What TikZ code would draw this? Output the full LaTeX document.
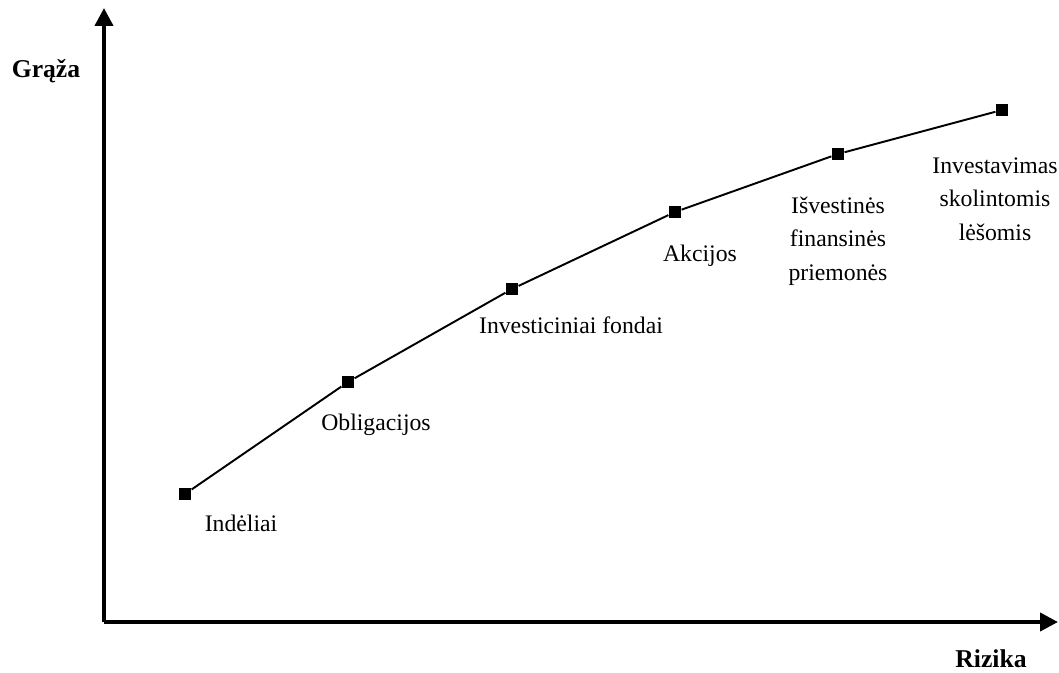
\documentclass[tikz,border=0pt]{standalone}
\usepackage{fontspec}
\setmainfont{Liberation Serif}
\usepackage{tikz}
\usetikzlibrary{arrows.meta,positioning}

\begin{document}
\begin{tikzpicture}[x=0.02cm,y=-0.02cm,
  axis/.style={line width=2.3pt,-{Triangle[length=0.36cm,width=0.36cm]}},
  pt/.style={fill=black,minimum size=0.25cm,inner sep=0pt},
  lbl/.style={font=\fontsize{13.5}{19}\selectfont,align=center,inner sep=0pt},
  ttl/.style={font=\fontsize{14.6}{19}\selectfont\bfseries,inner sep=0pt}]
\useasboundingbox (0,0) rectangle (1059,673);
% axes
\coordinate (o) at (104,622);
\coordinate (ytop) at (104,8);
\coordinate (xend) at (1058,622);
\draw[axis] (o) -- (ytop);
\draw[axis] (o) -- (xend);
\node[ttl] (graza) at (46,71) {Grąža};
\node[ttl] (rizika) at (991,659) {Rizika};
% points
\node[pt] (ind) at (185,494) {};
\node[pt] (obl) at (348,382) {};
\node[pt] (inv) at (512,289) {};
\node[pt] (akc) at (675,212) {};
\node[pt] (isv) at (838,154) {};
\node[pt] (sko) at (1002,110) {};
\draw[line width=1.1pt] (ind) -- (obl) -- (inv) -- (akc) -- (isv) -- (sko);
% labels
\node[lbl] (indl) at (241,523) {Indėliai};
\node[lbl] (obll) at (376,425) {Obligacijos};
\node[lbl] (invl) at (571,325) {Investiciniai fondai};
\node[lbl] (akcl) at (700,256) {Akcijos};
\node[lbl] (isvl) at (838,241) {Išvestinės\\finansinės\\priemonės};
\node[lbl] (skol) at (995,199) {Investavimas\\skolintomis\\lėšomis};
\end{tikzpicture}
\end{document}
